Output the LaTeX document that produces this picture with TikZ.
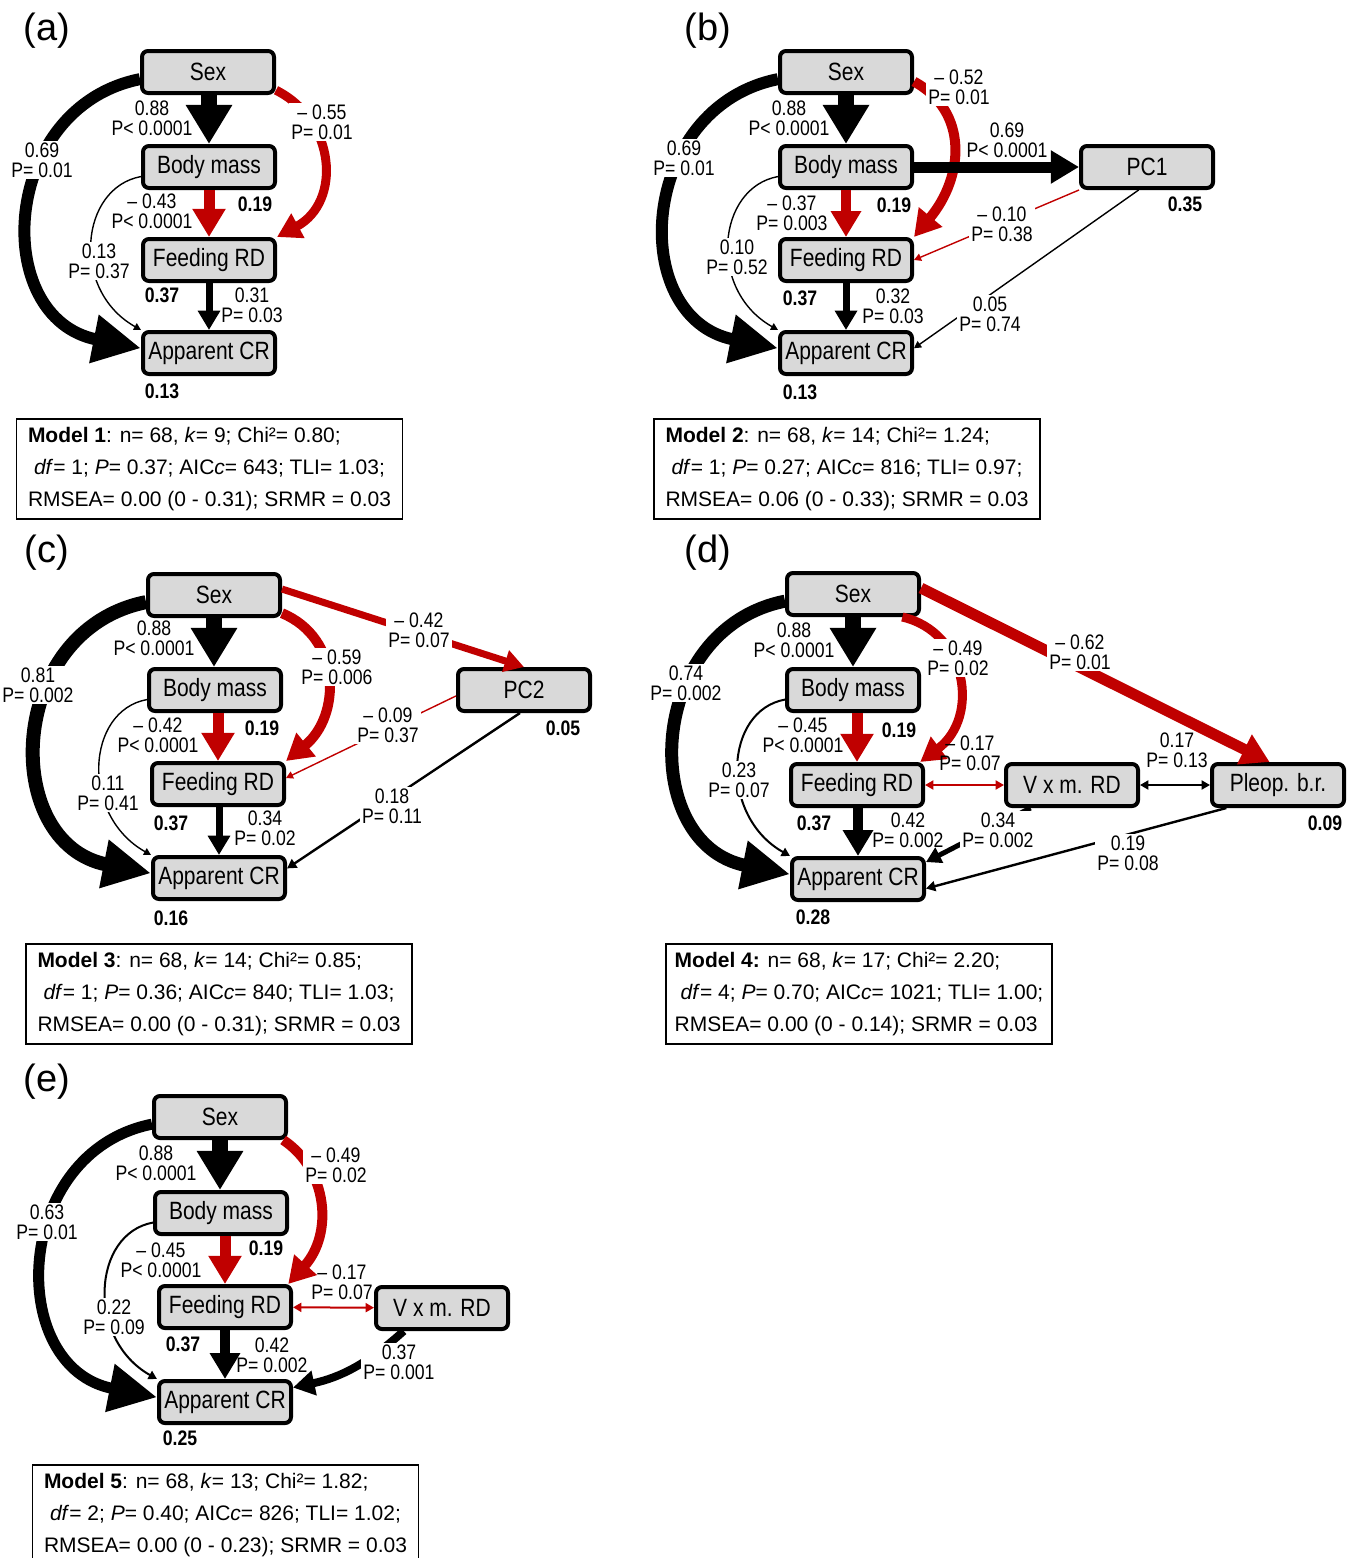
\documentclass[tikz,border=0pt]{standalone}
\usepackage{fontspec}
\setmainfont{Liberation Sans}
\newfontfamily\narrowfont{Liberation Sans}[FakeStretch=0.84]
\usetikzlibrary{arrows.meta}
\definecolor{negred}{RGB}{192,0,0}

\begin{document}
\begin{tikzpicture}[
        x=0.5pt, y=-0.5pt,
        >={Triangle[width=2pt 2.5, length=2pt 2.2]},
        bighead/.style={-{Triangle[width=23pt, length=24pt]}},
        var/.style={draw, line width=2pt, rounded corners=3pt, fill=gray!30, minimum width=66pt, minimum height=21pt, inner sep=0pt, font=\narrowfont\fontsize{12.5}{14}\selectfont},
        lab/.style={font=\narrowfont\fontsize{10.5}{10}\selectfont, align=center, inner sep=1pt},
        labw/.style={lab, fill=white},
        rsq/.style={font=\narrowfont\bfseries\fontsize{10.5}{12}\selectfont, inner sep=0pt},
        model/.style={draw, line width=0.8pt, minimum width=193pt, minimum height=50pt, align=left, inner sep=0pt, font=\fontsize{10.5}{16}\selectfont},
        panel/.style={font=\fontsize{19}{22}\selectfont, inner sep=0pt}
    ]
    \useasboundingbox (0,0) rectangle (1357,1558);

        % (a) Model 1
        \node[panel] (a_tag) at (47,31) {(a)};
        \node[var] (a_sex) at (208,72) {Sex};
        \node[var] (a_bm) at (209,167) {Body mass};
        \node[var] (a_fd) at (209,260) {Feeding RD};
        \node[var] (a_cr) at (209,353) {Apparent CR};
        \draw[->, line width=8pt] (a_sex.south -| a_bm.north) -- (a_bm.north);
        \draw[bighead, line width=6pt] (a_sex.-174) .. controls +(-140,28) and +(-152,-30) .. (a_cr.176);
        \draw[->, negred, line width=4.5pt] (a_sex.-15) .. controls +(60,30) and +(65,-35) .. (a_fd.north east);
        \draw[->, negred, line width=5.5pt] (a_bm.south) -- (a_fd.north);
        \draw[->, line width=0.7pt] (a_bm.-172) .. controls +(-61,11) and +(-71,-40) .. (a_cr.north west);
        \draw[->, line width=3.5pt] (a_fd.south) -- (a_cr.north);
        \node[lab] (a_l1) at (152,118) {0.88\\P< 0.0001};
        \node[labw] (a_l2) at (42,160) {0.69\\P= 0.01};
        \node[labw] (a_l3) at (322,122) {– 0.55\\P= 0.01};
        \node[lab] (a_l4) at (152,211) {– 0.43\\P< 0.0001};
        \node[labw] (a_l5) at (99,261) {0.13\\P= 0.37};
        \node[lab] (a_l6) at (252,305) {0.31\\P= 0.03};
        \node[rsq] (a_r1) at (255,204) {0.19};
        \node[rsq] (a_r2) at (162,295) {0.37};
        \node[rsq] (a_r3) at (162,391) {0.13};
        \node[model] (a_model) at (209.5,469) {\textbf{Model 1}: n= 68, \textit{k}= 9; Chi²= 0.80;\\\hspace*{3pt}\textit{df}= 1; \textit{P}= 0.37; AIC\textit{c}= 643; TLI= 1.03;\\RMSEA= 0.00 (0 - 0.31); SRMR = 0.03};

        % (b) Model 2
        \node[panel] (b_tag) at (708,31) {(b)};
        \node[var] (b_sex) at (846,72) {Sex};
        \node[var] (b_bm) at (846,167) {Body mass};
        \node[var] (b_fd) at (846,260) {Feeding RD};
        \node[var] (b_cr) at (846,353) {Apparent CR};
        \node[var] (b_pc1) at (1147,167) {PC1};
        \draw[->, line width=8pt] (b_sex.south) -- (b_bm.north);
        \draw[bighead, line width=6pt] (b_sex.-174) .. controls +(-140,28) and +(-152,-30) .. (b_cr.176);
        \draw[->, negred, line width=5pt] (b_sex.-8) .. controls +(55,30) and +(50,-60) .. (b_fd.north east);
        \draw[->, line width=5.5pt] (b_bm) -- (b_pc1);
        \draw[->, negred, line width=5pt] (b_bm.south) -- (b_fd.north);
        \draw[->, line width=0.7pt] (b_bm.-172) .. controls +(-61,11) and +(-71,-40) .. (b_cr.north west);
        \draw[->, line width=3.5pt] (b_fd.south) -- (b_cr.north);
        \draw[->, negred, line width=0.7pt] (b_pc1.south west) -- (b_fd.east);
        \draw[->, line width=0.7pt] (b_pc1.-110) -- (b_cr.4);
        \node[lab] (b_l1) at (789,118) {0.88\\P< 0.0001};
        \node[labw] (b_l2) at (684,158) {0.69\\P= 0.01};
        \node[labw] (b_l3) at (959,87) {– 0.52\\P= 0.01};
        \node[lab] (b_l4) at (1007,140) {0.69\\P< 0.0001};
        \node[lab] (b_l5) at (792,213) {– 0.37\\P= 0.003};
        \node[labw] (b_l6) at (1002,224) {– 0.10\\P= 0.38};
        \node[labw] (b_l7) at (737,257) {0.10\\P= 0.52};
        \node[lab] (b_l8) at (893,306) {0.32\\P= 0.03};
        \node[labw] (b_l9) at (990,314) {0.05\\P= 0.74};
        \node[rsq] (b_r1) at (894,205) {0.19};
        \node[rsq] (b_r2) at (800,298) {0.37};
        \node[rsq] (b_r3) at (800,392) {0.13};
        \node[rsq] (b_r4) at (1185,204) {0.35};
        \node[model] (b_model) at (847,469) {\textbf{Model 2}: n= 68, \textit{k}= 14; Chi²= 1.24;\\\hspace*{3pt}\textit{df}= 1; \textit{P}= 0.27; AIC\textit{c}= 816; TLI= 0.97;\\RMSEA= 0.06 (0 - 0.33); SRMR = 0.03};

        % (c) Model 3
        \node[panel] (c_tag) at (47,553) {(c)};
        \node[var] (c_sex) at (214,595) {Sex};
        \node[var] (c_bm) at (215,690) {Body mass};
        \node[var] (c_fd) at (218,784) {Feeding RD};
        \node[var] (c_cr) at (219,878) {Apparent CR};
        \node[var] (c_pc2) at (524,690) {PC2};
        \draw[->, line width=8pt] (c_sex.south) -- (c_sex.south |- c_bm.north);
        \draw[bighead, line width=7pt] (c_sex.-174) .. controls +(-140,28) and +(-152,-30) .. (c_cr.176);
        \draw[->, negred, line width=5pt] (c_sex.-15) .. controls +(60,25) and +(55,-45) .. (c_fd.north east);
        \draw[->, negred, line width=3.5pt] (c_sex.5) -- (c_pc2.north);
        \draw[->, negred, line width=5.5pt] (c_bm.south -| c_fd.north) -- (c_fd.north);
        \draw[->, line width=0.7pt] (c_bm.-172) .. controls +(-61,11) and +(-71,-40) .. (c_cr.north west);
        \draw[->, line width=3.5pt] (c_fd.south -| c_cr.north) -- (c_cr.north);
        \draw[->, negred, line width=0.7pt] (c_pc2.-175) -- (c_fd.5);
        \draw[->, line width=1.2pt] (c_pc2.-100) -- (c_cr.8);
        \node[lab] (c_l1) at (154,638) {0.88\\P< 0.0001};
        \node[labw] (c_l2) at (38,685) {0.81\\P= 0.002};
        \node[labw] (c_l3) at (419,630) {– 0.42\\P= 0.07};
        \node[labw] (c_l4) at (337,667) {– 0.59\\P= 0.006};
        \node[lab] (c_l5) at (158,735) {– 0.42\\P< 0.0001};
        \node[labw] (c_l6) at (388,725) {– 0.09\\P= 0.37};
        \node[labw] (c_l7) at (108,793) {0.11\\P= 0.41};
        \node[lab] (c_l8) at (265,828) {0.34\\P= 0.02};
        \node[labw] (c_l9) at (392,806) {0.18\\P= 0.11};
        \node[rsq] (c_r1) at (262,728) {0.19};
        \node[rsq] (c_r2) at (171,823) {0.37};
        \node[rsq] (c_r3) at (171,918) {0.16};
        \node[rsq] (c_r4) at (563,728) {0.05};
        \node[model] (c_model) at (219,994) {\textbf{Model 3}: n= 68, \textit{k}= 14; Chi²= 0.85;\\\hspace*{3pt}\textit{df}= 1; \textit{P}= 0.36; AIC\textit{c}= 840; TLI= 1.03;\\RMSEA= 0.00 (0 - 0.31); SRMR = 0.03};

        % (d) Model 4
        \node[panel] (d_tag) at (708,553) {(d)};
        \node[var] (d_sex) at (853,594) {Sex};
        \node[var] (d_bm) at (853,690) {Body mass};
        \node[var] (d_fd) at (857,785) {Feeding RD};
        \node[var] (d_cr) at (858,879) {Apparent CR};
        \node[var] (d_vxm) at (1072,785) {V x m. RD};
        \node[var] (d_pl) at (1278,785) {Pleop. b.r.};
        \draw[->, line width=8pt] (d_sex.south) -- (d_bm.north);
        \draw[bighead, line width=6.5pt] (d_sex.-174) .. controls +(-140,28) and +(-152,-30) .. (d_cr.176);
        \draw[->, negred, line width=4.5pt] (d_sex.-25) .. controls +(65,15) and +(60,-45) .. (d_fd.20);
        \draw[->, negred, line width=5.5pt] (d_sex.5) -- (d_pl.110);
        \draw[->, negred, line width=5.5pt] (d_bm.south -| d_fd.north) -- (d_fd.north);
        \draw[->, line width=1pt] (d_bm.-172) .. controls +(-61,11) and +(-71,-40) .. (d_cr.north west);
        \draw[->, line width=5pt] (d_fd.south -| d_cr.north) -- (d_cr.north);
        \draw[<->, negred, line width=1pt] (d_fd) -- (d_vxm);
        \draw[<->, line width=1pt] (d_vxm) -- (d_pl);
        \draw[->, line width=2.5pt] (d_vxm.-151) -- (d_cr.14);
        \draw[->, line width=1.2pt] (d_pl.-156) -- (d_cr.-8);
        \node[lab] (d_l1) at (794,640) {0.88\\P< 0.0001};
        \node[labw] (d_l2) at (686,683) {0.74\\P= 0.002};
        \node[labw] (d_l3) at (958,658) {– 0.49\\P= 0.02};
        \node[labw] (d_l4) at (1080,652) {– 0.62\\P= 0.01};
        \node[lab] (d_l5) at (803,735) {– 0.45\\P< 0.0001};
        \node[lab] (d_l6) at (970,753) {– 0.17\\P= 0.07};
        \node[lab] (d_l7) at (1177,750) {0.17\\P= 0.13};
        \node[labw] (d_l8) at (739,780) {0.23\\P= 0.07};
        \node[lab] (d_l9) at (908,830) {0.42\\P= 0.002};
        \node[labw] (d_l10) at (998,830) {0.34\\P= 0.002};
        \node[labw] (d_l11) at (1128,853) {0.19\\P= 0.08};
        \node[rsq] (d_r1) at (899,730) {0.19};
        \node[rsq] (d_r2) at (814,823) {0.37};
        \node[rsq] (d_r3) at (813,917) {0.28};
        \node[rsq] (d_r4) at (1325,823) {0.09};
        \node[model] (d_model) at (859,994) {\textbf{Model 4:} n= 68, \textit{k}= 17; Chi²= 2.20;\\\hspace*{3pt}\textit{df}= 4; \textit{P}= 0.70; AIC\textit{c}= 1021; TLI= 1.00;\\RMSEA= 0.00 (0 - 0.14); SRMR = 0.03};

        % (e) Model 5
        \node[panel] (e_tag) at (47,1082) {(e)};
        \node[var] (e_sex) at (220,1117) {Sex};
        \node[var] (e_bm) at (221,1213) {Body mass};
        \node[var] (e_fd) at (225,1307) {Feeding RD};
        \node[var] (e_cr) at (225,1402) {Apparent CR};
        \node[var] (e_vxm) at (442,1308) {V x m. RD};
        \draw[->, line width=8pt] (e_sex.south) -- (e_sex.south |- e_bm.north);
        \draw[bighead, line width=5.5pt] (e_sex.-174) .. controls +(-140,28) and +(-152,-30) .. (e_cr.176);
        \draw[->, negred, line width=5pt] (e_sex.-20) .. controls +(45,30) and +(45,-50) .. (e_fd.20);
        \draw[->, negred, line width=5.5pt] (e_bm.south -| e_fd.north) -- (e_fd.north);
        \draw[->, line width=1pt] (e_bm.-172) .. controls +(-61,11) and +(-71,-40) .. (e_cr.north west);
        \draw[->, line width=5pt] (e_fd.south) -- (e_cr.north);
        \draw[<->, negred, line width=1pt] (e_fd) -- (e_vxm);
        \draw[->, line width=4pt] (e_vxm.-149) to[bend left=15] (e_cr.12);
        \node[lab] (e_l1) at (156,1163) {0.88\\P< 0.0001};
        \node[labw] (e_l2) at (47,1222) {0.63\\P= 0.01};
        \node[labw] (e_l3) at (336,1165) {– 0.49\\P= 0.02};
        \node[lab] (e_l4) at (161,1260) {– 0.45\\P< 0.0001};
        \node[lab] (e_l5) at (342,1282) {– 0.17\\P= 0.07};
        \node[labw] (e_l6) at (114,1317) {0.22\\P= 0.09};
        \node[lab] (e_l7) at (272,1355) {0.42\\P= 0.002};
        \node[labw] (e_l8) at (399,1362) {0.37\\P= 0.001};
        \node[rsq] (e_r1) at (266,1248) {0.19};
        \node[rsq] (e_r2) at (183,1344) {0.37};
        \node[rsq] (e_r3) at (180,1438) {0.25};
        \node[model] (e_model) at (225.5,1515) {\textbf{Model 5}: n= 68, \textit{k}= 13; Chi²= 1.82;\\\hspace*{3pt}\textit{df}= 2; \textit{P}= 0.40; AIC\textit{c}= 826; TLI= 1.02;\\RMSEA= 0.00 (0 - 0.23); SRMR = 0.03};

\end{tikzpicture}
\end{document}
